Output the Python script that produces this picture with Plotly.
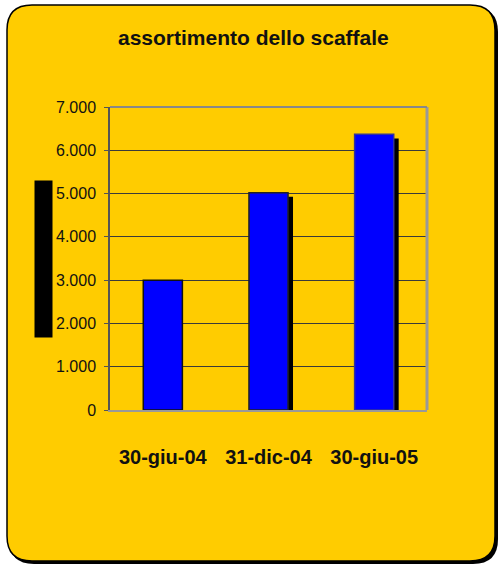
import plotly.graph_objects as go

categories = ["30-giu-04", "31-dic-04", "30-giu-05"]
values = [3000, 5020, 6370]
has_shadow = [False, True, True]
y_ticks = [0, 1000, 2000, 3000, 4000, 5000, 6000, 7000]
title_text = "assortimento dello scaffale"

W, H = 498, 564
L, R, T, B = 110, 427, 107, 410  # plot area pixel bounds

def px(x):
    return (x - L) / (R - L)

def py(y):
    return (B - y) / (B - T)

def rounded_path(x0, y0, x1, y1, r):
    pts = [
        f"M {px(x0 + r)},{py(y0)}",
        f"L {px(x1 - r)},{py(y0)}",
        f"Q {px(x1)},{py(y0)} {px(x1)},{py(y0 + r)}",
        f"L {px(x1)},{py(y1 - r)}",
        f"Q {px(x1)},{py(y1)} {px(x1 - r)},{py(y1)}",
        f"L {px(x0 + r)},{py(y1)}",
        f"Q {px(x0)},{py(y1)} {px(x0)},{py(y1 - r)}",
        f"L {px(x0)},{py(y0 + r)}",
        f"Q {px(x0)},{py(y0)} {px(x0 + r)},{py(y0)}",
        "Z",
    ]
    return " ".join(pts)

bar_w = 0.37
shadow_dx = 0.047
shadow_dy = 95

shadow_vals = [v if s else None for v, s in zip(values, has_shadow)]

fig = go.Figure()
fig.add_trace(go.Bar(
    x=categories, y=[v - shadow_dy if v is not None else None for v in shadow_vals],
    base=0, width=bar_w, offset=-bar_w / 2 + shadow_dx,
    marker=dict(color="black", line=dict(width=0)),
    hoverinfo="skip", showlegend=False,
))
fig.add_trace(go.Bar(
    x=categories, y=values, width=bar_w, offset=-bar_w / 2,
    marker=dict(color="#0000FF", line=dict(color=["#111111", "#222222", "#333399"], width=1.5)),
    showlegend=False,
))

fig.update_layout(
    width=W, height=H,
    margin=dict(l=L, r=W - R, t=T, b=H - B, pad=0),
    paper_bgcolor="white",
    plot_bgcolor="white",
    barmode="overlay",
    separators=",.",
    font=dict(family="Liberation Sans, Arial, sans-serif", color="#111111"),
    xaxis=dict(
        showgrid=False, showline=True, linecolor="#999999", linewidth=2,
        ticks="", tickfont=dict(size=20, color="#111111", family="Liberation Sans, Arial, sans-serif", weight="bold"),
        ticklabelstandoff=28, fixedrange=True,
    ),
    yaxis=dict(
        range=[0, 7000], tickvals=y_ticks, tickformat=",.0f",
        showgrid=True, gridcolor="#3a3a3a", gridwidth=1,
        showline=True, linecolor="#555555", linewidth=1.5,
        ticks="outside", ticklen=4, tickcolor="#555555",
        tickfont=dict(size=16, color="#111111"),
        ticklabelstandoff=5, zeroline=False,
    ),
    shapes=[
        dict(type="path", xref="paper", yref="paper", layer="below",
             path=rounded_path(9, 7, 498, 564, 25), fillcolor="black", line=dict(width=0)),
        dict(type="path", xref="paper", yref="paper", layer="below",
             path=rounded_path(7, 5, 495, 561, 25), fillcolor="#FFCC00",
             line=dict(color="black", width=1.5)),
        dict(type="line", xref="paper", yref="paper", x0=1, x1=1, y0=0, y1=1,
             line=dict(color="#999999", width=3), layer="above"),
        dict(type="line", xref="paper", yref="paper", x0=0, x1=1, y0=1, y1=1,
             line=dict(color="#888888", width=2), layer="above"),
    ],
    annotations=[
        dict(text=title_text, xref="paper", yref="paper", x=px(253), y=py(37),
             showarrow=False, xanchor="center", yanchor="middle",
             font=dict(size=21, color="#111111", weight="bold")),
        dict(text="quantità", xref="paper", yref="paper", x=px(43), y=py(259.5),
             xanchor="center", yanchor="middle", borderpad=0, borderwidth=0,
             showarrow=False, textangle=-90, bgcolor="black", width=157, height=18,
             font=dict(size=12, color="black")),
    ],
)

fig.write_html(
    "out.html",
    config={"displayModeBar": False},
    post_script="document.body.style.margin='0';document.body.style.overflow='hidden';",
)
